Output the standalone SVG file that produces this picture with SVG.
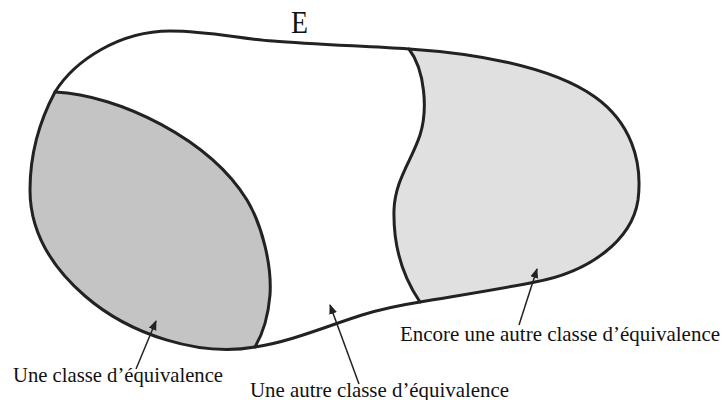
<svg xmlns="http://www.w3.org/2000/svg" width="724" height="400" viewBox="0 0 724 400">
<style>
.ln{fill:none;stroke:#222;stroke-width:3;stroke-linejoin:round;stroke-linecap:round}
.ar{fill:none;stroke:#222;stroke-width:1.5}
.t{font-family:"Liberation Serif",serif;font-size:21px;fill:#111}
</style>
<defs>
<marker id="ah" viewBox="0 0 10 10" refX="9" refY="5" markerWidth="10" markerHeight="10" markerUnits="userSpaceOnUse" orient="auto">
<path d="M0,1 L10,5 L0,9 Z" fill="#222"/>
</marker>
</defs>
<g id="classe1">
<path d="M55,92 C120,95 210,140 247,200 C262,225 272,265 270,295 C268,320 262,335 255,347 C200,357 130,335 85,296 C55,270 30,235 30,190 C30,155 40,120 55,92 Z" fill="#c4c4c4"/>
</g>
<g id="classe3">
<path d="M409,49 C470,53 550,65 595,97 C630,122 643,160 638,200 C632,240 590,272 535,282 C495,290 455,296 420,302 C405,280 393,250 394,210 C395,180 412,160 420,135 C428,110 425,70 409,49 Z" fill="#e0e0e0"/>
</g>
<g id="E">
<path class="ln" d="M55,92 C75,60 120,31 170,31 C210,31 240,39 273,41 C310,44 360,46 409,49 C470,53 550,65 595,97 C630,122 643,160 638,200 C632,240 590,272 535,282 C495,290 455,296 420,302 C395,306 378,310 362,315 C330,325 290,342 255,347 C200,357 130,335 85,296 C55,270 30,235 30,190 C30,155 40,120 55,92 Z"/>
<path class="ln" d="M55,92 C120,95 210,140 247,200 C262,225 272,265 270,295 C268,320 262,335 255,347"/>
<path class="ln" d="M420,302 C405,280 393,250 394,210 C395,180 412,160 420,135 C428,110 425,70 409,49"/>
<text x="291" y="33" textLength="17" lengthAdjust="spacingAndGlyphs" style="font-family:'Liberation Serif',serif;font-size:31px;fill:#111">E</text>
</g>
<g id="connectors">
<line class="ar" x1="136" y1="369" x2="156" y2="321" marker-end="url(#ah)"/>
<line class="ar" x1="359" y1="384" x2="330" y2="305" marker-end="url(#ah)"/>
<line class="ar" x1="519" y1="325" x2="537" y2="269" marker-end="url(#ah)"/>
</g>
<g id="labels">
<text class="t" x="13" y="382" textLength="210" lengthAdjust="spacingAndGlyphs">Une classe d’équivalence</text>
<text class="t" x="250" y="397" textLength="259" lengthAdjust="spacingAndGlyphs">Une autre classe d’équivalence</text>
<text class="t" x="400" y="341" textLength="320" lengthAdjust="spacingAndGlyphs">Encore une autre classe d’équivalence</text>
</g>
</svg>
